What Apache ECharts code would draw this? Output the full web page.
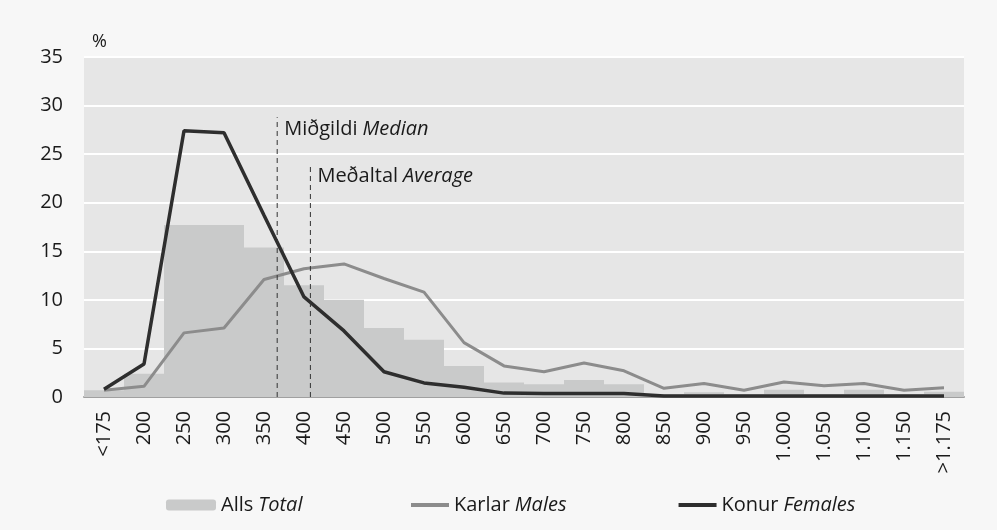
<!DOCTYPE html>
<html>
<head>
    <meta charset="utf-8">
    <title>Laun - dreifing</title>
    <script src="https://cdn.jsdelivr.net/npm/echarts@6.0.0/dist/echarts.min.js"></script>
    <style>
        body { margin: 0; background: #f7f7f7; }
    </style>
</head>
<body>
    <div id="main" style="width: 997px;height:530px;"></div>
    <script type="text/javascript">
        // flokkar (þús. kr.)
        var categories = ['<175', '200', '250', '300', '350', '400', '450', '500', '550', '600', '650',
            '700', '750', '800', '850', '900', '950', '1.000', '1.050', '1.100', '1.150', '>1.175'];

        // Alls Total, %
        var totalValues = [0.7, 2.4, 17.7, 17.7, 15.4, 11.5, 10.0, 7.1, 5.9, 3.2, 1.5,
            1.3, 1.75, 1.3, 0.3, 0.5, 0.3, 0.75, 0.3, 0.75, 0.3, 0.55];

        // Karlar Males, %
        var maleValues = [0.7, 1.1, 6.6, 7.1, 12.1, 13.2, 13.7, 12.2, 10.8, 5.6, 3.2,
            2.6, 3.5, 2.7, 0.9, 1.4, 0.7, 1.55, 1.15, 1.4, 0.7, 0.95];

        // Konur Females, %
        var femaleValues = [0.8, 3.4, 27.4, 27.2, 18.7, 10.3, 6.8, 2.6, 1.45, 1.0, 0.4,
            0.35, 0.35, 0.35, 0.1, 0.1, 0.1, 0.1, 0.1, 0.1, 0.1, 0.1];

        // miðgildi og meðaltal (staðsetning á flokkaás) og hæð línanna
        var medianPos = 4.33, medianTop = 28.8;
        var averagePos = 5.16, averageTop = 24.0;

        var font = 'Open Sans';
        var richText = {
            r: { fontFamily: font, fontSize: 20, color: '#1a1a1a' },
            i: { fontFamily: font, fontSize: 20, color: '#1a1a1a', fontStyle: 'italic', padding: [0, 0, 0, 5] }
        };
        function twoPart(s) {
            var k = s.indexOf(' ');
            return '{r|' + s.slice(0, k) + '}{i|' + s.slice(k + 1) + '}';
        }

        function markerSeries(name, pos, top) {
            return {
                name: name,
                type: 'line',
                xAxisIndex: 1,
                symbol: 'none',
                silent: true,
                z: 5,
                lineStyle: { color: '#333', width: 1, type: [5, 4] },
                endLabel: {
                    show: true,
                    distance: 7,
                    offset: [0, 12],
                    formatter: twoPart(name),
                    rich: richText
                },
                data: [[pos, 0], [pos, top]]
            };
        }

        var option = {
            backgroundColor: '#f7f7f7',
            animation: false,
            title: {
                text: '%', left: 87, top: 28,
                textStyle: { fontFamily: font, fontSize: 18, fontWeight: 'normal', color: '#1a1a1a' }
            },
            grid: {
                left: 84, right: 33, top: 57, bottom: 133,
                show: true, backgroundColor: '#e6e6e6', borderWidth: 0
            },
            legend: [{
                data: ['Alls Total'],
                left: 166, top: 495, padding: 0,
                itemWidth: 50, itemHeight: 11, itemGap: 0,
                formatter: twoPart,
                textStyle: { rich: richText }
            }, {
                data: [{ name: 'Karlar Males', icon: 'rect' }, { name: 'Konur Females', icon: 'rect' }],
                left: 411, top: 495, padding: 0,
                itemWidth: 38, itemHeight: 4, itemGap: 112,
                formatter: twoPart,
                textStyle: { rich: richText }
            }],
            xAxis: [{
                type: 'category',
                data: categories,
                boundaryGap: true,
                axisTick: { show: false },
                axisLine: { lineStyle: { color: '#a0a0a0', width: 2 } },
                axisLabel: {
                    rotate: 90, interval: 0, margin: 14,
                    fontFamily: font, fontSize: 20, color: '#1a1a1a'
                }
            }, {
                type: 'value',
                min: -0.5, max: categories.length - 0.5,
                show: false
            }],
            yAxis: {
                type: 'value',
                min: 0, max: 35, interval: 5,
                axisLine: { show: false },
                axisTick: { show: false },
                axisLabel: { fontFamily: font, fontSize: 20, color: '#1a1a1a', margin: 21 },
                splitLine: { lineStyle: { color: '#ffffff', width: 2 } }
            },
            series: [{
                name: 'Alls Total',
                type: 'bar',
                data: totalValues,
                barCategoryGap: '0%',
                itemStyle: { color: '#c9caca' }
            }, {
                name: 'Karlar Males',
                type: 'line',
                data: maleValues,
                symbol: 'none',
                z: 3,
                lineStyle: { color: '#8c8c8c', width: 3 },
                itemStyle: { color: '#8c8c8c' }
            }, {
                name: 'Konur Females',
                type: 'line',
                data: femaleValues,
                symbol: 'none',
                z: 4,
                lineStyle: { color: '#2e2e2e', width: 3.5 },
                itemStyle: { color: '#2e2e2e' }
            },
                markerSeries('Miðgildi Median', medianPos, medianTop),
                markerSeries('Meðaltal Average', averagePos, averageTop)
            ]
        };

        var chart = echarts.init(document.getElementById('main'));
        chart.setOption(option);
    </script>
</body>
</html>
